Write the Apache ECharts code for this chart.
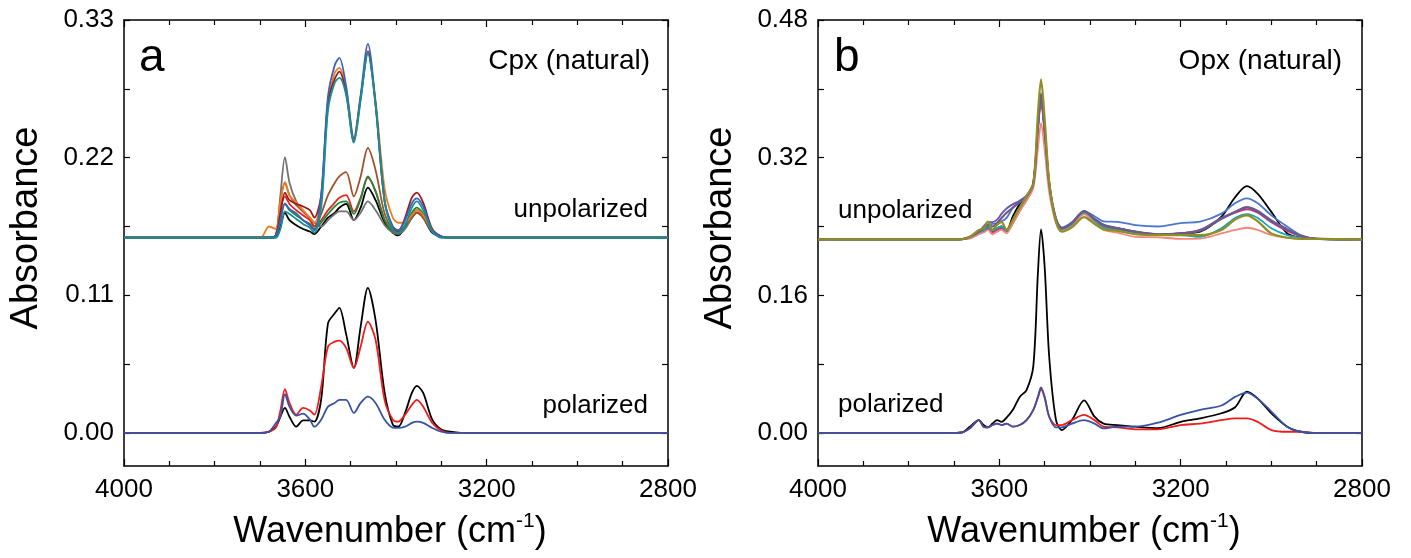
<!DOCTYPE html>
<html>
<head>
<meta charset="utf-8">
<script src="https://cdn.jsdelivr.net/npm/echarts@6/dist/echarts.min.js"></script>
<style>
  html, body { margin: 0; padding: 0; background: #fff; }
  #chart { width: 1411px; height: 558px; }
</style>
</head>
<body>
<div id="chart"></div>
<script>
// ---- panel a: Cpx (natural) ----
const cpxWn = [4000, 3700, 3680, 3665, 3655, 3645, 3635, 3620, 3605, 3590, 3580, 3565, 3550, 3535, 3525, 3510,
  3493, 3478, 3462, 3445, 3425, 3407, 3395, 3380, 3365, 3354, 3340, 3320, 3300, 3280, 3250, 2800]

// unpolarized spectra (offset baseline ~0.156)
const cpxUnBlack = [0.156,0.156,0.156,0.157,0.165,0.176,0.17,0.166,0.163,0.161,0.159,0.165,0.172,0.176,0.18,0.183,0.170,0.18,0.196,0.186,0.168,0.160,0.158,0.164,0.172,0.176,0.172,0.160,0.157,0.156,0.156,0.156]
const cpxUnGray = [0.156,0.156,0.156,0.158,0.19,0.2205,0.20,0.185,0.177,0.172,0.168,0.165,0.170,0.175,0.177,0.177,0.170,0.176,0.185,0.178,0.166,0.160,0.159,0.163,0.172,0.176,0.172,0.161,0.157,0.156,0.156,0.156]
const cpxUnBrown = [0.156,0.156,0.156,0.158,0.185,0.20,0.19,0.182,0.177,0.172,0.165,0.175,0.19,0.20,0.205,0.2085,0.189,0.205,0.2277,0.21,0.175,0.162,0.160,0.165,0.173,0.176,0.172,0.161,0.157,0.156,0.156,0.156]
const cpxUnRed = [0.156,0.156,0.156,0.158,0.178,0.189,0.183,0.178,0.174,0.170,0.165,0.170,0.178,0.184,0.188,0.190,0.177,0.188,0.204,0.193,0.170,0.161,0.160,0.166,0.175,0.178,0.174,0.161,0.157,0.156,0.156,0.156]
const cpxUnGreen = [0.156,0.156,0.156,0.157,0.172,0.183,0.178,0.174,0.170,0.167,0.163,0.168,0.175,0.181,0.184,0.185,0.175,0.187,0.205,0.193,0.170,0.161,0.160,0.165,0.176,0.180,0.175,0.161,0.157,0.156,0.156,0.156]
const cpxUnOrange = [0.156,0.156,0.165,0.163,0.185,0.2005,0.19,0.184,0.178,0.172,0.168,0.185,0.262,0.288,0.2917,0.275,0.236,0.268,0.303,0.265,0.195,0.172,0.168,0.168,0.174,0.178,0.174,0.162,0.157,0.156,0.156,0.156]
const cpxUnDarkRed = [0.156,0.156,0.156,0.158,0.176,0.192,0.186,0.183,0.181,0.178,0.172,0.19,0.265,0.283,0.2887,0.272,0.233,0.268,0.305,0.262,0.185,0.164,0.161,0.172,0.188,0.192,0.184,0.163,0.157,0.156,0.156,0.156]
const cpxUnBlue = [0.156,0.156,0.156,0.158,0.170,0.1835,0.179,0.1755,0.170,0.166,0.162,0.19,0.269,0.294,0.2997,0.277,0.235,0.27,0.311,0.263,0.185,0.165,0.162,0.170,0.1835,0.1875,0.181,0.162,0.157,0.156,0.156,0.156]
const cpxUnTeal = [0.156,0.156,0.156,0.156,0.163,0.177,0.175,0.171,0.167,0.164,0.160,0.18,0.258,0.28,0.2837,0.27,0.232,0.266,0.3036,0.262,0.185,0.162,0.160,0.166,0.18,0.185,0.178,0.161,0.156,0.156,0.156,0.156]

// polarized spectra
const cpxPolBlack = [0,0,0.001,0.005,0.013,0.020,0.013,0.005,0.010,0.010,0.009,0.027,0.0876,0.0956,0.100,0.079,0.052,0.085,0.116,0.090,0.032,0.0066,0.005,0.016,0.032,0.0376,0.032,0.0106,0.0027,0.001,0,0]
const cpxPolRed = [0,0,0.001,0.0045,0.018,0.035,0.024,0.0146,0.020,0.018,0.0146,0.037,0.069,0.073,0.0738,0.068,0.052,0.069,0.089,0.0744,0.026,0.0106,0.009,0.0146,0.0224,0.0264,0.021,0.008,0.002,0,0,0]
const cpxPolBlue = [0,0,0.001,0.008,0.013,0.031,0.021,0.0138,0.0154,0.0106,0.005,0.0106,0.021,0.024,0.0264,0.0264,0.016,0.024,0.029,0.024,0.0106,0.0043,0.004,0.005,0.008,0.009,0.008,0.004,0.001,0,0,0]

// ---- panel b: Opx (natural) ----
const opxWn = [4000, 3700, 3680, 3665, 3645, 3635, 3625, 3615, 3605, 3595, 3584, 3570, 3555, 3540, 3525, 3515, 3508,
  3500, 3490, 3475, 3462, 3440, 3413, 3390, 3370, 3340, 3300, 3250, 3200, 3157, 3110, 3080, 3054, 3030, 3000,
  2965, 2935, 2900, 2800]

const opxUnBlack = [0.225,0.225,0.2255,0.227,0.232,0.234,0.238,0.234,0.238,0.240,0.236,0.252,0.266,0.274,0.29,0.355,0.39,0.351,0.29,0.246,0.237,0.243,0.257,0.247,0.240,
  0.238,0.234,0.230,0.232,0.234,0.2515,0.274,0.287,0.278,0.257,0.232,0.227,0.2257,0.225]
const opxUnBlue = [0.225,0.225,0.2255,0.227,0.233,0.238,0.242,0.243,0.244,0.246,0.25,0.262,0.27,0.276,0.29,0.353,0.387,0.349,0.29,0.25,0.239,0.245,0.258,0.252,0.246,
  0.2455,0.2417,0.240,0.244,0.2456,0.255,0.267,0.2727,0.267,0.253,0.240,0.230,0.2257,0.225]
const opxUnMagenta = [0.225,0.225,0.2255,0.227,0.233,0.236,0.238,0.233,0.236,0.238,0.234,0.244,0.258,0.272,0.29,0.351,0.385,0.347,0.288,0.246,0.236,0.242,0.256,0.247,0.240,
  0.237,0.233,0.230,0.231,0.236,0.249,0.256,0.260,0.256,0.245,0.235,0.229,0.2257,0.225]
const opxUnTeal = [0.225,0.225,0.2255,0.227,0.232,0.235,0.24,0.235,0.238,0.24,0.235,0.246,0.26,0.274,0.29,0.355,0.39,0.351,0.29,0.246,0.236,0.242,0.256,0.246,0.239,
  0.236,0.232,0.230,0.230,0.228,0.238,0.250,0.2545,0.250,0.238,0.230,0.227,0.2257,0.225]
const opxUnSalmon = [0.225,0.225,0.2255,0.226,0.231,0.233,0.236,0.231,0.234,0.236,0.232,0.244,0.258,0.27,0.285,0.33,0.36,0.329,0.28,0.244,0.235,0.240,0.254,0.244,0.236,
  0.233,0.228,0.2275,0.2257,0.226,0.232,0.236,0.2386,0.236,0.230,0.227,0.2257,0.2255,0.225]
const opxUnPurple = [0.225,0.225,0.2255,0.228,0.234,0.24,0.245,0.245,0.248,0.255,0.261,0.266,0.27,0.275,0.29,0.359,0.395,0.354,0.29,0.248,0.238,0.244,0.258,0.249,0.242,
  0.238,0.234,0.231,0.232,0.236,0.250,0.257,0.262,0.257,0.246,0.236,0.229,0.2257,0.225]
const opxUnSlate = [0.225,0.225,0.2255,0.228,0.234,0.238,0.242,0.24,0.244,0.25,0.256,0.262,0.268,0.275,0.29,0.357,0.393,0.353,0.29,0.248,0.238,0.244,0.258,0.249,0.242,
  0.238,0.234,0.231,0.232,0.235,0.249,0.257,0.2625,0.258,0.247,0.237,0.229,0.226,0.225]
const opxUnOlive = [0.225,0.225,0.2255,0.228,0.236,0.238,0.2456,0.236,0.242,0.245,0.236,0.248,0.262,0.275,0.29,0.37,0.411,0.365,0.292,0.246,0.234,0.239,0.251,0.243,0.237,
  0.235,0.231,0.230,0.230,0.230,0.236,0.248,0.253,0.246,0.232,0.227,0.2257,0.2257,0.225]

const opxPolBlack = [0,0,0.001,0.0074,0.015,0.0093,0.0066,0.011,0.015,0.013,0.018,0.027,0.042,0.050,0.078,0.185,0.2367,0.193,0.0887,0.015,0.0035,0.015,0.038,0.019,0.011,
  0.0093,0.0074,0.0058,0.013,0.017,0.023,0.030,0.048,0.040,0.023,0.0074,0.0015,0,0]
const opxPolRed = [0,0,0.001,0.0054,0.015,0.0074,0.0066,0.0093,0.011,0.0093,0.011,0.0074,0.0093,0.015,0.027,0.041,0.051,0.041,0.019,0.0093,0.0093,0.015,0.021,0.015,0.0074,
  0.0066,0.0043,0.0043,0.0093,0.011,0.015,0.017,0.017,0.013,0.0035,0.0015,0.0015,0,0]
const opxPolBlue = [0,0,0.001,0.0054,0.015,0.0074,0.0066,0.0093,0.011,0.0093,0.011,0.0074,0.0093,0.015,0.027,0.042,0.053,0.042,0.019,0.0066,0.0066,0.011,0.015,0.011,0.0054,
  0.0074,0.0074,0.012,0.021,0.027,0.032,0.042,0.047,0.040,0.025,0.0074,0.0015,0,0]

// tick labels
const xTicks = [4000, 3600, 3200, 2800]
const cpxYTicks = [0, 0.11, 0.22, 0.33]
const opxYTicks = [0, 0.16, 0.32, 0.48]

const FONT = 'Liberation Sans, Arial, sans-serif'

function halves(ticks) {
  let out = []
  ticks.forEach((t, i) => {
    out.push(t)
    if (i < ticks.length - 1) out.push((t + ticks[i + 1]) / 2)
  })
  return out
}

function line(wn, vals, color, panel, width) {
  return {
    type: 'line',
    xAxisIndex: panel * 2,
    yAxisIndex: panel * 2,
    data: wn.map((w, i) => [w, vals[i]]),
    showSymbol: false,
    smooth: 0.3,
    silent: true,
    lineStyle: { color: color, width: width || 1.8 },
    itemStyle: { color: color }
  }
}

function xAxes(gridIndex) {
  let base = {
    gridIndex: gridIndex,
    type: 'value',
    min: xTicks[xTicks.length - 1], max: xTicks[0], interval: 400,
    inverse: true,
    splitLine: { show: false },
    axisLine: { onZero: false, lineStyle: { color: '#000', width: 1.5 } },
    axisTick: { inside: true, length: 7, lineStyle: { color: '#000', width: 1.2 } },
    minorTick: { show: true, splitNumber: 4, length: 5, lineStyle: { color: '#000', width: 1.2 } }
  }
  return [
    Object.assign({}, base, {
      position: 'bottom',
      axisLabel: { color: '#000', fontSize: 26, fontFamily: FONT, margin: 11, formatter: v => String(v) }
    }),
    Object.assign({}, base, {
      position: 'top',
      axisLabel: { show: false }
    })
  ]
}

function yAxes(gridIndex, ticks, min) {
  let base = {
    gridIndex: gridIndex,
    type: 'value',
    min: min, max: ticks[ticks.length - 1],
    splitLine: { show: false },
    axisLine: { onZero: false, lineStyle: { color: '#000', width: 1.5 } },
    axisTick: { inside: true, length: 6, customValues: halves(ticks), lineStyle: { color: '#000', width: 1.2 } }
  }
  return [
    Object.assign({}, base, {
      position: 'left',
      axisLabel: {
        color: '#000', fontSize: 26, fontFamily: FONT, margin: 10,
        customValues: ticks,
        formatter: v => v.toFixed(2)
      }
    }),
    Object.assign({}, base, {
      position: 'right',
      axisLabel: { show: false }
    })
  ]
}

function txt(x, y, text, size, align, extra) {
  return {
    type: 'text', x: x, y: y, silent: true,
    style: Object.assign({
      text: text, fontSize: size, fontFamily: FONT, fill: '#000',
      align: align || 'left', verticalAlign: 'middle'
    }, extra || {})
  }
}

const chart = echarts.init(document.getElementById('chart'), null, { renderer: 'canvas' })

const wnRich = {
  a: { fontSize: 36, fontFamily: FONT, lineHeight: 42 },
  s: { fontSize: 21, fontFamily: FONT, lineHeight: 22, verticalAlign: 'top' }
}

const option = {
  animation: false,
  backgroundColor: '#fff',
  grid: [
    { left: 124, top: 20, width: 544, height: 446 },
    { left: 818, top: 20, width: 544, height: 446 }
  ],
  xAxis: [...xAxes(0), ...xAxes(1)],
  yAxis: [...yAxes(0, cpxYTicks, -0.0264), ...yAxes(1, opxYTicks, -0.0383)],
  series: [
    line(cpxWn, cpxUnBlack, '#000000', 0),
    line(cpxWn, cpxUnGray, '#737373', 0),
    line(cpxWn, cpxUnBrown, '#a0522d', 0),
    line(cpxWn, cpxUnRed, '#e8211d', 0),
    line(cpxWn, cpxUnGreen, '#1a8a3a', 0),
    line(cpxWn, cpxUnOrange, '#f07c1e', 0),
    line(cpxWn, cpxUnDarkRed, '#9b1b1b', 0),
    line(cpxWn, cpxUnBlue, '#3f5fbf', 0),
    line(cpxWn, cpxUnTeal, '#12918f', 0),
    line(cpxWn, cpxPolBlack, '#000000', 0),
    line(cpxWn, cpxPolRed, '#ee1c1c', 0),
    line(cpxWn, cpxPolBlue, '#3953a4', 0),

    line(opxWn, opxUnBlack, '#000000', 1),
    line(opxWn, opxUnBlue, '#4a78d0', 1),
    line(opxWn, opxUnMagenta, '#d0307a', 1),
    line(opxWn, opxUnTeal, '#1aa5b0', 1),
    line(opxWn, opxUnSalmon, '#f4877a', 1),
    line(opxWn, opxUnPurple, '#6b55b5', 1),
    line(opxWn, opxUnSlate, '#6e5a86', 1, 2.2),
    line(opxWn, opxUnOlive, '#8f8f26', 1, 2.2),
    line(opxWn, opxPolBlack, '#000000', 1),
    line(opxWn, opxPolRed, '#ee1c1c', 1),
    line(opxWn, opxPolBlue, '#3953a4', 1)
  ],
  graphic: [
    txt(139, 58, 'a', 46),
    txt(650, 61, 'Cpx (natural)', 28, 'right'),
    txt(648, 210, 'unpolarized', 26, 'right'),
    txt(648, 406, 'polarized', 26, 'right'),
    txt(834, 58, 'b', 46),
    txt(1342, 61, 'Opx (natural)', 28, 'right'),
    txt(838, 211, 'unpolarized', 26),
    txt(838, 405, 'polarized', 26),
    Object.assign(txt(27, 228, 'Absorbance', 38, 'center'), { rotation: Math.PI / 2 }),
    Object.assign(txt(721, 228, 'Absorbance', 38, 'center'), { rotation: Math.PI / 2 }),
    txt(390, 532, '{a|Wavenumber (cm}{s|-1}{a|)}', 36, 'center', { rich: wnRich }),
    txt(1084, 532, '{a|Wavenumber (cm}{s|-1}{a|)}', 36, 'center', { rich: wnRich })
  ]
}

chart.setOption(option)
</script>
</body>
</html>
